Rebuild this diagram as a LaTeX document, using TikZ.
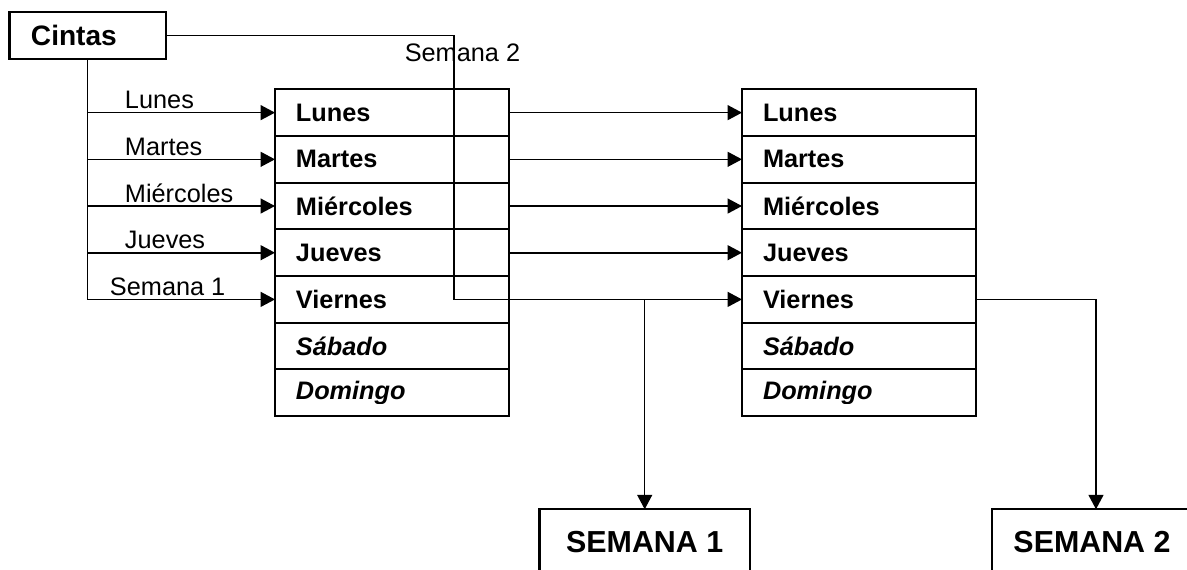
\documentclass[tikz,border=0pt]{standalone}
\usepackage{fontspec}
\setmainfont{Liberation Sans}
\usetikzlibrary{positioning,arrows.meta}
\tikzset{
  dia/.style={draw, line width=1.2pt, outer sep=0pt, minimum height=0.934cm, text width=3.84cm,
    inner xsep=0.42cm, inner ysep=0pt, align=left, font=\fontsize{14.4}{16}\selectfont\bfseries},
  finde/.style={dia, font=\fontsize{14.4}{16}\selectfont\bfseries\itshape},
  caja/.style={draw, line width=1.2pt, outer sep=0pt, font=\fontsize{17.3}{20}\selectfont\bfseries},
  etiq/.style={inner sep=0pt, anchor=base west, font=\fontsize{14.4}{16}\selectfont},
  linea/.style={line width=0.9pt},
  flecha/.style={linea, -{Triangle[length=0.29cm,width=0.3cm]}}
}
\begin{document}
\begin{tikzpicture}[x=0.02cm, y=-0.02cm]
\useasboundingbox (0,0) rectangle (1187,570);
% origen
\node[caja, font=\fontsize{16}{19}\selectfont\bfseries, text width=2.27cm, inner xsep=0.43cm,
  minimum height=0.95cm, align=left] (c) at (87.7,35.4) {\raisebox{-0.07cm}{Cintas}};
% primera semana
\node[dia, anchor=north west] (a1) at (275,89.3) {Lunes};
\node[dia, below=0pt of a1] (a2) {Martes};
\node[dia, below=0pt of a2] (a3) {Miércoles};
\node[dia, below=0pt of a3] (a4) {Jueves};
\node[dia, below=0pt of a4] (a5) {Viernes};
\node[finde, below=0pt of a5] (a6) {Sábado};
\node[finde, below=0pt of a6] (a7) {};
% segunda semana
\node[dia, anchor=north west] (b1) at (742,89.3) {Lunes};
\node[dia, below=0pt of b1] (b2) {Martes};
\node[dia, below=0pt of b2] (b3) {Miércoles};
\node[dia, below=0pt of b3] (b4) {Jueves};
\node[dia, below=0pt of b4] (b5) {Viernes};
\node[finde, below=0pt of b5] (b6) {Sábado};
\node[finde, below=0pt of b6] (b7) {};
\begin{scope}
  \clip (a7.north west) rectangle ([yshift=0.25cm]b7.south east);
  \node[finde, draw=none] (d1) at (a7) {Domingo};
  \node[finde, draw=none] (d2) at (b7) {Domingo};
\end{scope}
% copias
\node[caja, minimum width=4.21cm, minimum height=1.3cm, anchor=north] (w1) at (644.7,509.3) {SEMANA 1};
\node[caja, minimum width=4cm, minimum height=1.3cm, anchor=north] (w2) at (1092,509.3) {SEMANA 2};

\draw[flecha] (c.south |- a1.west) -- node[etiq, at start, xshift=0.73cm, yshift=0.08cm] (l1) {Lunes} (a1.west);
\draw[flecha] (c.south |- a2.west) -- node[etiq, at start, xshift=0.73cm, yshift=0.08cm] (l2) {Martes} (a2.west);
\draw[flecha] (c.south |- a3.west) -- node[etiq, at start, xshift=0.73cm, yshift=0.08cm] (l3) {Miércoles} (a3.west);
\draw[flecha] (c.south |- a4.west) -- node[etiq, at start, xshift=0.73cm, yshift=0.08cm] (l4) {Jueves} (a4.west);
\draw[flecha] (c.south) |- node[etiq, pos=0.5, xshift=0.43cm, yshift=0.08cm] (l5) {Semana 1} (a5.west);
\draw[flecha] (c.east) -| node[etiq, pos=0.5, anchor=base, xshift=0.17cm, yshift=-0.53cm] (l6) {Semana 2}
  ([xshift=-1.1cm]a5.east) -- (b5.west);

\draw[flecha] (a1.east) -- (b1.west);
\draw[flecha] (a2.east) -- (b2.west);
\draw[flecha] (a3.east) -- (b3.west);
\draw[flecha] (a4.east) -- (b4.west);

\draw[flecha] (w1.north |- a5.east) -- (w1.north);
\draw[flecha] (b5.east) -| ([xshift=0.08cm]w2.north);
\end{tikzpicture}
\end{document}
